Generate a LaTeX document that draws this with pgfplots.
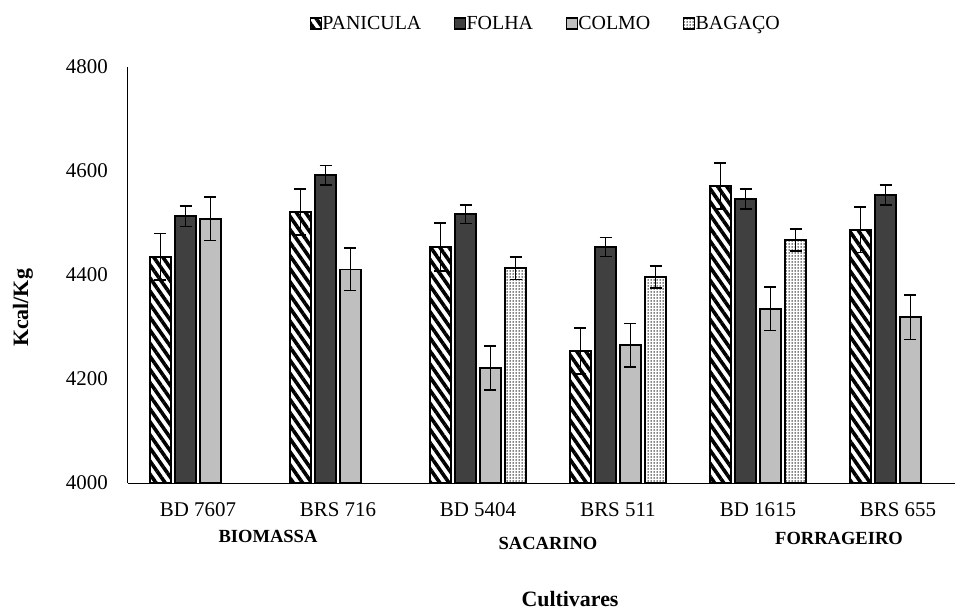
\documentclass[border=0pt]{standalone}
\usepackage{fontspec}
\setmainfont{Liberation Serif}
\usepackage{pgfplots}
\pgfplotsset{compat=1.18}
\usetikzlibrary{patterns.meta}
\definecolor{folha}{HTML}{404040}
\definecolor{colmo}{HTML}{BFBFBF}

\begin{document}
\begin{tikzpicture}
\begin{axis}[
 at={(0,0)}, anchor=south west,
 scale only axis, width=827bp, height=416bp,
 xmin=-0.5, xmax=5.4071, ymin=4000, ymax=4800,
 ybar, bar width=0.15,
 axis lines*=left,
 axis line style={line width=1bp, black},
 xtick={0,...,5},
 xticklabels={BD 7607, BRS 716, BD 5404, BRS 511, BD 1615, BRS 655},
 ytick={4000,4200,...,4800},
 major tick length=0pt,
 tick label style={font=\fontsize{21}{25}\selectfont, inner sep=0pt},
 /pgf/number format/assume math mode=true,
 /pgf/number format/1000 sep={},
 xticklabel style={yshift=-19bp},
 yticklabel style={xshift=-20bp},
 legend columns=4,
 legend style={at={(0.5042,1.1046)}, anchor=center, draw=none, fill=none,
   font=\fontsize{20}{24}\selectfont,
   /tikz/every even column/.append style={column sep=32bp},
   nodes={inner sep=0.5bp}},
 legend image code/.code={\draw[#1, line width=1.3bp] (0bp,-5.5bp) rectangle (11bp,5.5bp);},
 error bars/y dir=both, error bars/y explicit,
 error bars/error bar style={line width=1.5bp, black},
 error bars/error mark options={rotate=90, mark size=6bp, line width=1.5bp, black},
 every axis plot/.append style={draw=black, line width=1.5bp},
 clip=false,
]
\addplot[bar shift=-0.268, draw=black, pattern={Lines[angle=-55, distance=7.5bp, line width=3.6bp]}, pattern color=black]
 coordinates {(0,4435) +- (0,45) (1,4521) +- (0,44) (2,4454) +- (0,46) (3,4254) +- (0,44) (4,4571) +- (0,44) (5,4487) +- (0,44)};
\addlegendentry{PANICULA}
\addplot[bar shift=-0.089, draw=black, fill=folha]
 coordinates {(0,4513) +- (0,20) (1,4592) +- (0,19) (2,4517) +- (0,18) (3,4454) +- (0,18) (4,4546) +- (0,19) (5,4554) +- (0,19)};
\addlegendentry{FOLHA}
\addplot[bar shift=0.089, draw=black, fill=colmo]
 coordinates {(0,4508) +- (0,42) (1,4411) +- (0,41) (2,4221) +- (0,42) (3,4265) +- (0,42) (4,4335) +- (0,42) (5,4319) +- (0,43)};
\addlegendentry{COLMO}
\addplot[bar shift=0.268, draw=black, pattern={Dots[distance=3bp, radius=0.75bp]}, pattern color=black]
 coordinates {(2,4413) +- (0,22) (3,4396) +- (0,21) (4,4467) +- (0,21)};
\addlegendentry{BAGAÇO}
\end{axis}
\node[anchor=base, font=\bfseries\fontsize{18.6}{22}\selectfont] at (140bp,-59bp) {BIOMASSA};
\node[anchor=base, font=\bfseries\fontsize{18.6}{22}\selectfont] at (420bp,-66bp) {SACARINO};
\node[anchor=base, font=\bfseries\fontsize{18.6}{22}\selectfont] at (711bp,-61bp) {FORRAGEIRO};
\node[anchor=base, font=\bfseries\fontsize{22}{26}\selectfont] at (442bp,-123bp) {Cultivares};
\node[rotate=90, font=\bfseries\fontsize{22}{26}\selectfont] at (-105bp,175bp) {Kcal/Kg};
\pgfresetboundingbox
\path[use as bounding box] (-128bp,-130bp) rectangle (827bp,483bp);
\end{tikzpicture}
\end{document}
